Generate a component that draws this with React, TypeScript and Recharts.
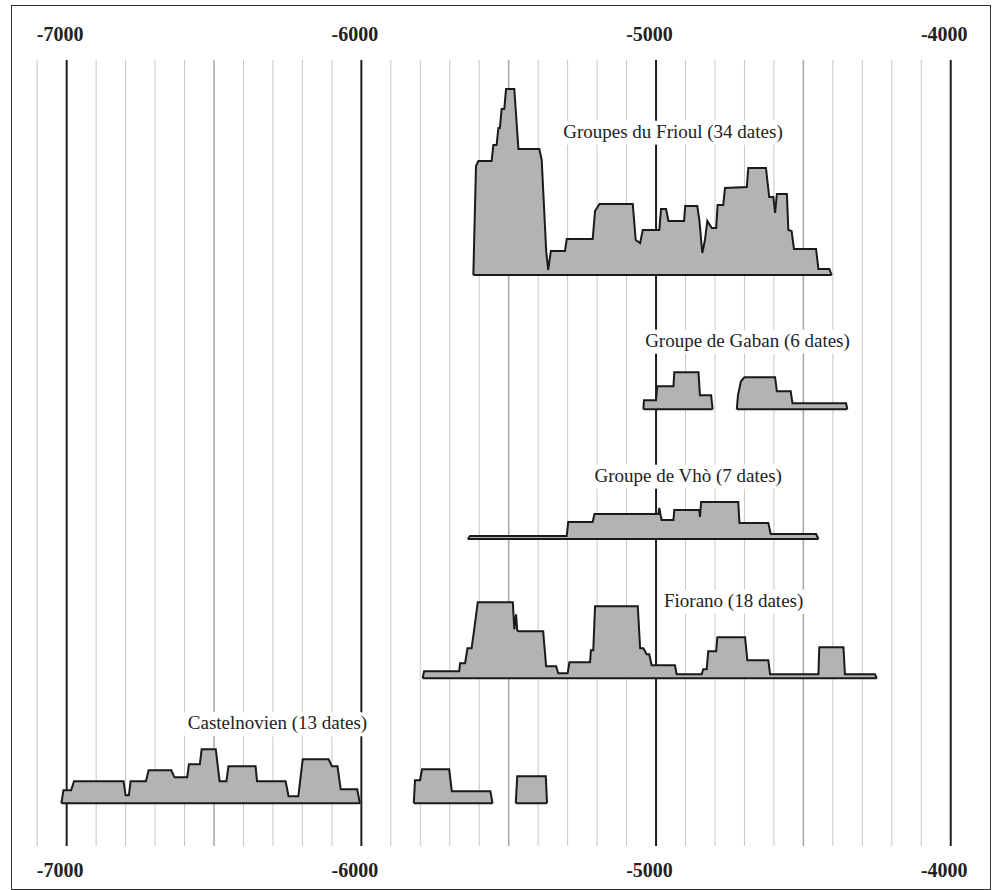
import React, { useLayoutEffect, useRef, useState } from "react"
import { Area, ComposedChart, ReferenceDot, ReferenceLine, XAxis, YAxis } from "recharts"

// [year, summed probability] (relative units)
const frioul: [number, number][] = [
  [-5620, 0], [-5611, 109], [-5603, 114], [-5558, 114], [-5552, 130], [-5541, 130],
  [-5535, 147], [-5530, 147], [-5524, 166], [-5515, 166], [-5509, 186], [-5481, 186],
  [-5467, 126], [-5396, 126], [-5388, 115], [-5373, 25], [-5366, 5], [-5357, 24],
  [-5309, 24], [-5303, 36], [-5215, 36], [-5207, 64], [-5192, 71], [-5079, 71],
  [-5069, 35], [-5054, 32], [-5045, 45], [-4989, 45], [-4983, 66], [-4966, 66],
  [-4958, 54], [-4905, 54], [-4901, 69], [-4860, 69], [-4853, 55], [-4843, 22],
  [-4834, 35], [-4826, 54], [-4811, 47], [-4796, 47], [-4791, 70], [-4772, 70],
  [-4766, 87], [-4692, 88], [-4687, 107], [-4627, 107], [-4616, 78], [-4602, 78],
  [-4596, 62], [-4590, 81], [-4556, 81], [-4551, 45], [-4540, 44], [-4532, 26],
  [-4457, 26], [-4449, 6], [-4412, 6], [-4404, 0],
]

const gabanA: [number, number][] = [
  [-5043, 0], [-5041, 9], [-5000, 9], [-4996, 23], [-4941, 23], [-4938, 37],
  [-4856, 37], [-4851, 14], [-4813, 14], [-4808, 0],
]

const gabanB: [number, number][] = [
  [-4726, 0], [-4722, 14], [-4712, 28], [-4700, 32], [-4596, 32], [-4590, 18],
  [-4543, 18], [-4537, 6], [-4355, 6], [-4351, 0],
]

const vho: [number, number][] = [
  [-5639, 0], [-5631, 3], [-5303, 3], [-5298, 17], [-5215, 17], [-5209, 25],
  [-4992, 25], [-4989, 31], [-4984, 23], [-4981, 19], [-4941, 19], [-4938, 29],
  [-4853, 29], [-4851, 22], [-4847, 37], [-4721, 37], [-4717, 16], [-4619, 16],
  [-4611, 5], [-4457, 5], [-4449, 0],
]

const fiorano: [number, number][] = [
  [-5792, 0], [-5787, 7], [-5668, 7], [-5665, 15], [-5648, 15], [-5640, 30],
  [-5626, 30], [-5618, 47], [-5605, 76], [-5486, 76], [-5481, 49], [-5475, 64],
  [-5471, 48], [-5467, 47], [-5383, 47], [-5373, 12], [-5339, 12], [-5332, 5],
  [-5300, 5], [-5294, 16], [-5224, 16], [-5221, 28], [-5213, 28], [-5207, 72],
  [-5062, 72], [-5054, 30], [-5043, 30], [-5032, 24], [-5023, 24], [-5015, 13],
  [-4936, 13], [-4930, 4], [-4845, 4], [-4840, 9], [-4828, 9], [-4823, 27],
  [-4796, 27], [-4792, 41], [-4698, 41], [-4690, 18], [-4619, 18], [-4613, 4],
  [-4449, 4], [-4446, 31], [-4364, 31], [-4359, 4], [-4257, 4], [-4251, 0],
]

const castelA: [number, number][] = [
  [-7018, 0], [-7011, 13], [-6985, 13], [-6975, 22], [-6807, 22], [-6800, 8],
  [-6789, 8], [-6783, 22], [-6731, 22], [-6722, 33], [-6645, 33], [-6634, 26],
  [-6591, 26], [-6585, 39], [-6548, 39], [-6542, 54], [-6494, 54], [-6481, 22],
  [-6458, 22], [-6451, 37], [-6359, 37], [-6354, 22], [-6257, 22], [-6247, 7],
  [-6214, 7], [-6199, 44], [-6111, 44], [-6100, 37], [-6081, 37], [-6070, 14],
  [-6014, 14], [-6005, 0],
]

const castelB: [number, number][] = [
  [-5822, 0], [-5818, 23], [-5801, 23], [-5794, 34], [-5702, 34], [-5693, 12],
  [-5562, 12], [-5555, 0],
]

const castelC: [number, number][] = [
  [-5476, 0], [-5471, 27], [-5374, 27], [-5370, 0],
]

const yearLabels = [-7000, -6000, -5000, -4000]
const halfTicks = [-6500, -5500, -4500]
const minorTicks = [
  -7100, -6900, -6800, -6700, -6600, -6400, -6300, -6200, -6100,
  -5900, -5800, -5700, -5600, -5400, -5300, -5200, -5100,
  -4900, -4800, -4700, -4600, -4400, -4300, -4200, -4100,
]

// each culture sits on its own row; base = row baseline on the value axis
const rows = [
  { base: 571, pieces: [frioul] },
  { base: 436.7, pieces: [gabanA, gabanB] },
  { base: 307, pieces: [vho] },
  { base: 167.7, pieces: [fiorano] },
  { base: 42.7, pieces: [castelA, castelB, castelC] },
]

const notes = [
  { text: "Groupes du Frioul (34 dates)", x: -5315, y: 708.3 },
  { text: "Groupe de Gaban (6 dates)", x: -5037, y: 499.3 },
  { text: "Groupe de Vhò (7 dates)", x: -5209, y: 364.3 },
  { text: "Fiorano (18 dates)", x: -4973, y: 239.3 },
  { text: "Castelnovien (13 dates)", x: -6589, y: 116.7 },
]

const serif = "'Liberation Serif', 'Times New Roman', serif"

function NoteLabel({ cx, cy, text }: { cx: number; cy: number; text: string }) {
  const ref = useRef<SVGTextElement>(null)
  const [w, setW] = useState(0)
  useLayoutEffect(() => {
    if (ref.current) setW(ref.current.getComputedTextLength())
  }, [text])
  return (
    <g>
      <rect x={cx - 4} y={cy - 17} width={w + 8} height={24} fill="#fff" />
      <text ref={ref} x={cx} y={cy} fontFamily={serif} fontSize={19} fill="#222">
        {text}
      </text>
    </g>
  )
}

function YearTick(props: any) {
  const { x, payload, top } = props
  return (
    <text x={x - 6.5} y={top ? 40.7 : 877} textAnchor="middle" fontFamily={serif} fontWeight="bold" fontSize={20} fill="#222">
      {payload.value}
    </text>
  )
}

export default function App() {
  return (
    <div style={{ position: "absolute", left: 0, top: 0, width: 993, height: 890 }}>
      <div
        style={{
          position: "absolute",
          left: 11,
          top: 5,
          width: 980,
          height: 885,
          border: "1.5px solid #333",
          boxSizing: "border-box",
        }}
      />
      <div style={{ position: "absolute", left: 0, top: 0 }}>
        <ComposedChart width={993} height={890} margin={{ top: 0, right: 12.8, bottom: 0, left: 37.2 }}>
          <XAxis
            xAxisId="top"
            orientation="top"
            type="number"
            dataKey="x"
            domain={[-7100, -3900]}
            ticks={yearLabels}
            height={60}
            axisLine={false}
            tickLine={false}
            tick={<YearTick top />}
            allowDataOverflow
          />
          <XAxis
            type="number"
            dataKey="x"
            domain={[-7100, -3900]}
            ticks={yearLabels}
            height={44}
            axisLine={false}
            tickLine={false}
            tick={<YearTick />}
            allowDataOverflow
          />
          <YAxis type="number" domain={[0, 786]} hide allowDataOverflow />
          {minorTicks.map((v) => (
            <ReferenceLine key={v} x={v} stroke="#c6c6c6" strokeWidth={1} zIndex={-20} />
          ))}
          {halfTicks.map((v) => (
            <ReferenceLine key={v} x={v} stroke="#a6a6a6" strokeWidth={1.5} zIndex={-15} />
          ))}
          {yearLabels.map((v) => (
            <ReferenceLine key={v} x={v} stroke="#1e1e1e" strokeWidth={2} zIndex={-10} />
          ))}
          {notes.map((n) => (
            <ReferenceDot
              key={n.text}
              x={n.x}
              y={n.y}
              r={0}
              ifOverflow="visible"
              zIndex={-5}
              shape={(p: any) => <NoteLabel cx={p.cx} cy={p.cy} text={n.text} />}
            />
          ))}
          {rows.map((row, ri) =>
            row.pieces.map((pts, pi) => (
              <Area
                key={`${ri}-${pi}`}
                data={pts.map(([x, h]) => ({ x, v: [row.base, row.base + h] }))}
                dataKey="v"
                type="linear"
                fill="#b3b3b6"
                fillOpacity={1}
                stroke="#1a1a1a"
                strokeWidth={2}
                dot={false}
                activeDot={false}
                isAnimationActive={false}
              />
            ))
          )}
        </ComposedChart>
      </div>
    </div>
  )
}
